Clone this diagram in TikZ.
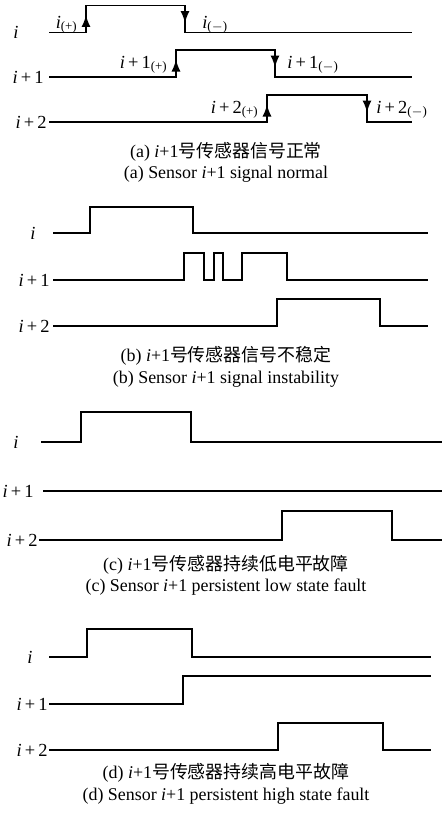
\documentclass[tikz,border=0pt]{standalone}
\usepackage{fontspec}
\setmainfont{Liberation Serif}
\newfontfamily\cjk{Noto Sans CJK SC}
\usetikzlibrary{arrows.meta}
\tikzset{
  wave/.style={line width=0.9pt},
  edgearr/.style={line width=0.9pt,-{Latex[length=2.4mm,width=1.8mm]}},
  lbl/.style={inner sep=0pt,font=\fontsize{10.5}{12}\selectfont},
  capt/.style={align=center,inner sep=0pt,font=\fontsize{10.2}{12.2}\selectfont}
}
\newcommand{\sidx}[1]{\textit{i}\,+\,#1}
\newcommand{\capidx}{\textit{i}+1}
\begin{document}
\begin{tikzpicture}[x=0.02cm,y=-0.02cm]
  \useasboundingbox (0,0) rectangle (448,815);

  % (a) normal
  \node[lbl] (ai) at (16,32.5) {\textit{i}}; % label i
  \node[lbl,anchor=east] (ai1) at (44,77) {\sidx{1}}; % label i+1
  \node[lbl,anchor=east] (ai2) at (47,122) {\sidx{2}}; % label i+2
  \draw[wave] (49,32.5) -- (86,32.5) -- (86,5.5) -- (185,5.5) -- (185,32.5) -- (412,32.5); % signal i
  \draw[wave] (49,77) -- (176,77) -- (176,50) -- (275,50) -- (275,77) -- (412,77); % signal i+1
  \draw[wave] (49,122) -- (267,122) -- (267,95) -- (367,95) -- (367,122) -- (412,122); % signal i+2
  \draw[edgearr] (86,32.5) -- (86,15); % rising i
  \draw[edgearr] (185,5.5) -- (185,23); % falling i
  \draw[edgearr] (176,77) -- (176,59.5); % rising i+1
  \draw[edgearr] (275,50) -- (275,67.5); % falling i+1
  \draw[edgearr] (267,122) -- (267,104.5); % rising i+2
  \draw[edgearr] (367,95) -- (367,112.5); % falling i+2
  \node[lbl,anchor=base east] (aip) at (78,28) {\textit{i}\textsubscript{(+)}};
  \node[lbl,anchor=base west] (aim) at (202,28) {\textit{i}\textsubscript{($-$)}};
  \node[lbl,anchor=base east] (ai1p) at (168,68) {\sidx{1}\textsubscript{(+)}};
  \node[lbl,anchor=base west] (ai1m) at (287,68) {\sidx{1}\textsubscript{($-$)}};
  \node[lbl,anchor=base east] (ai2p) at (259,113) {\sidx{2}\textsubscript{(+)}};
  \node[lbl,anchor=base west] (ai2m) at (376,113) {\sidx{2}\textsubscript{($-$)}};
  \node[capt] (capa) at (226,162.5) {(a) \capidx{\cjk 号传感器信号正常}\\(a) Sensor \capidx{} signal normal};

  % (b) instability
  \node[lbl] (bi) at (33,233) {\textit{i}};
  \node[lbl,anchor=east] (bi1) at (50,280) {\sidx{1}};
  \node[lbl,anchor=east] (bi2) at (50,326) {\sidx{2}};
  \draw[wave] (53,233) -- (90,233) -- (90,207) -- (193,207) -- (193,233) -- (428,233); % signal i
  \draw[wave] (53,280) -- (184,280) -- (184,253) -- (204,253) -- (204,280) -- (214,280) -- (214,253)
    -- (223,253) -- (223,280) -- (242,280) -- (242,253) -- (287,253) -- (287,280) -- (428,280); % signal i+1, chattering
  \draw[wave] (53,326) -- (277,326) -- (277,299) -- (380,299) -- (380,326) -- (428,326); % signal i+2
  \node[capt] (capb) at (226,367) {(b) \capidx{\cjk 号传感器信号不稳定}\\(b) Sensor \capidx{} signal instability};

  % (c) stuck low
  \node[lbl] (ci) at (16,442) {\textit{i}};
  \node[lbl,anchor=east] (ci1) at (34,491) {\sidx{1}};
  \node[lbl,anchor=east] (ci2) at (38,540) {\sidx{2}};
  \draw[wave] (41,442) -- (81,442) -- (81,412) -- (191,412) -- (191,442) -- (442,442); % signal i
  \draw[wave] (43,491) -- (442,491); % signal i+1 stays low
  \draw[wave] (39,540) -- (282,540) -- (282,511) -- (392,511) -- (392,540) -- (442,540); % signal i+2
  \node[capt] (capc) at (226,575.5) {(c) \capidx{\cjk 号传感器持续低电平故障}\\(c) Sensor \capidx{} persistent low state fault};

  % (d) stuck high
  \node[lbl] (di) at (30,657) {\textit{i}};
  \node[lbl,anchor=east] (di1) at (48,704) {\sidx{1}};
  \node[lbl,anchor=east] (di2) at (48,750) {\sidx{2}};
  \draw[wave] (49,657) -- (87,657) -- (87,629) -- (192,629) -- (192,657) -- (431,657); % signal i
  \draw[wave] (49,704) -- (183,704) -- (183,676) -- (431,676); % signal i+1 stays high
  \draw[wave] (49,750) -- (278,750) -- (278,723) -- (383,723) -- (383,750) -- (431,750); % signal i+2
  \node[capt] (capd) at (226,784) {(d) \capidx{\cjk 号传感器持续高电平故障}\\(d) Sensor \capidx{} persistent high state fault};
\end{tikzpicture}
\end{document}
